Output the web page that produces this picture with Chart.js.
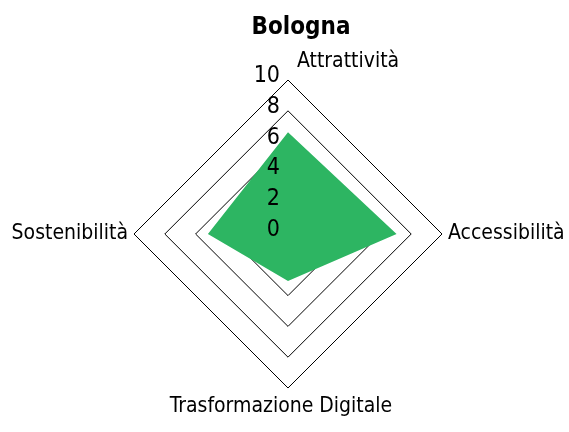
<!DOCTYPE html>
<html>
<head>
<meta charset="utf-8">
<script src="https://cdn.jsdelivr.net/npm/chart.js@4"></script>
<style>
  html, body { margin: 0; padding: 0; background: #fff; }
  #wrap { width: 569px; height: 432px; }
</style>
</head>
<body>
<div id="wrap"><canvas id="radarChart"></canvas></div>
<script>
const FONT = "'DejaVu Sans Condensed', 'Liberation Sans Narrow', sans-serif";

const categories = ["Attrattività", "Accessibilità", "Trasformazione Digitale", "Sostenibilità"];
const bolognaValues = [6.6, 7.05, 3.05, 5.2];
const tickValues = [0, 2, 4, 6, 8, 10];

/* tick labels sit left of the vertical axis, right aligned */
const tickLabelPlugin = {
    id: "tickLabels",
    afterDatasetsDraw(chart) {
        const r = chart.scales.r;
        const ctx = chart.ctx;
        ctx.save();
        ctx.font = "23px " + FONT;
        ctx.fillStyle = "#000";
        ctx.textAlign = "right";
        ctx.textBaseline = "middle";
        tickValues.forEach(v => {
            const d = r.getDistanceFromCenterForValue(v);
            ctx.fillText(String(v), r.xCenter - 8, r.yCenter - d - 4);
        });
        ctx.restore();
    }
};

/* top label starts right of the vertex, title a bit right of centre */
const layoutTweaks = {
    id: "layoutTweaks",
    afterLayout(chart) {
        const r = chart.scales.r;
        const items = r._pointLabelItems || [];
        if (items[0]) {
            const w = items[0].right - items[0].left;
            items[0].textAlign = "left";
            items[0].x = r.xCenter + 9;
            items[0].left = items[0].x;
            items[0].right = items[0].x + w;
        }
        if (items[2]) {
            items[2].x -= 7;
            items[2].left -= 7;
            items[2].right -= 7;
        }
        if (chart.titleBlock) chart.titleBlock.left = 33;
    }
};

new Chart(document.getElementById("radarChart"), {
    type: "radar",
    data: {
        labels: categories,
        datasets: [{
            label: "Bologna",
            data: bolognaValues,
            backgroundColor: "#2db562",
            borderWidth: 0,
            pointRadius: 0,
            fill: true
        }]
    },
    options: {
        responsive: true,
        maintainAspectRatio: false,
        animation: false,
        layout: { padding: { left: 9, bottom: 12 } },
        plugins: {
            legend: { display: false },
            tooltip: { enabled: false },
            title: {
                display: true,
                text: "Bologna",
                color: "#000",
                font: { family: FONT, size: 24, weight: "bold" },
                padding: { top: 13, bottom: 7 }
            }
        },
        scales: {
            r: {
                min: 0,
                max: 10,
                ticks: { stepSize: 2, display: false },
                grid: { color: "#000", lineWidth: 1 },
                angleLines: { display: false },
                pointLabels: {
                    color: "#000",
                    padding: 6,
                    font: { family: FONT, size: 21 }
                }
            }
        }
    },
    plugins: [tickLabelPlugin, layoutTweaks]
});
</script>
</body>
</html>
